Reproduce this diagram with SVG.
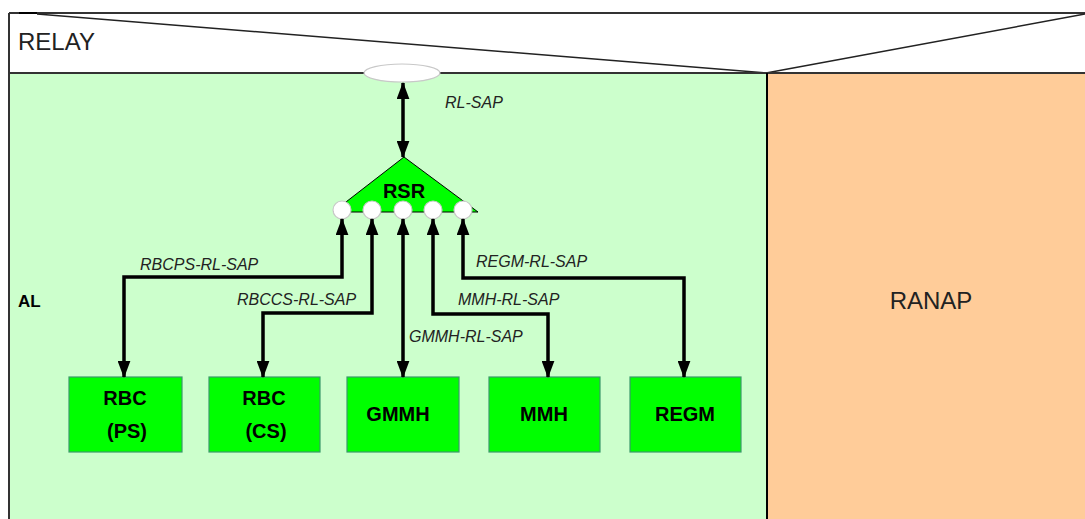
<svg xmlns="http://www.w3.org/2000/svg" width="1085" height="519" viewBox="0 0 1085 519">
<style>
.lbl{font-family:"Liberation Sans",Arial,sans-serif;font-style:italic;font-size:16px;fill:#222}
.big{font-family:"Liberation Sans",Arial,sans-serif;font-size:24px;fill:#222}
.bold{font-family:"Liberation Sans",Arial,sans-serif;font-weight:bold;font-size:20px;fill:#000;text-anchor:middle}
.box{fill:#00ff00;stroke:#3a9a6a;stroke-width:1.2}
.con{fill:none;stroke:#000;stroke-width:3.5}
.sap{fill:#fff;stroke:#c8c8c8;stroke-width:1.2}
</style>
<defs>
<marker id="ah" viewBox="0 0 16 12" refX="15" refY="6" markerWidth="17" markerHeight="13" markerUnits="userSpaceOnUse" orient="auto-start-reverse">
<path d="M0,0 L16,6 L0,12 z" fill="#000"/>
</marker>
</defs>
<rect x="0" y="0" width="1085" height="519" fill="#fff"/>
<g id="relay">
<line x1="9" y1="13" x2="1085" y2="13" stroke="#333" stroke-width="2"/>
<line x1="19" y1="13" x2="37" y2="13" stroke="#000" stroke-width="2"/>
<line x1="37" y1="14" x2="766" y2="73" stroke="#222" stroke-width="1.5"/>
<line x1="766" y1="73" x2="1085" y2="14" stroke="#222" stroke-width="1.5"/>
<text class="big" x="18" y="50">RELAY</text>
</g>
<g id="al">
<rect x="9" y="73" width="757" height="446" fill="#ccffcc"/>
<text x="18" y="307" font-family="Liberation Sans, Arial, sans-serif" font-weight="bold" font-size="17" fill="#000">AL</text>
</g>
<g id="ranap">
<rect x="766" y="73" width="319" height="446" fill="#ffcc99"/>
<text class="big" x="931" y="309" text-anchor="middle">RANAP</text>
</g>
<line x1="9" y1="73" x2="1085" y2="73" stroke="#333" stroke-width="2"/>
<line x1="9" y1="13" x2="9" y2="519" stroke="#333" stroke-width="2"/>
<line x1="767" y1="73" x2="767" y2="519" stroke="#000" stroke-width="2"/>
<g id="rl-sap">
<ellipse class="sap" cx="402" cy="73" rx="38" ry="9"/>
</g>
<g id="rsr">
<polygon points="404,157 333,212 478,212" fill="#00ff00" stroke="#000" stroke-width="1"/>
<text class="bold" x="404" y="198">RSR</text>
<circle class="sap" cx="342" cy="210" r="9"/>
<circle class="sap" cx="372" cy="210" r="9"/>
<circle class="sap" cx="403" cy="210" r="9"/>
<circle class="sap" cx="433" cy="210" r="9"/>
<circle class="sap" cx="463" cy="210" r="9"/>
</g>
<g id="rbc-ps">
<rect class="box" x="69" y="377" width="113" height="75"/>
<text class="bold" x="125" y="405">RBC</text>
<text class="bold" x="127" y="438">(PS)</text>
</g>
<g id="rbc-cs">
<rect class="box" x="209" y="377" width="111" height="75"/>
<text class="bold" x="264" y="405">RBC</text>
<text class="bold" x="266" y="438">(CS)</text>
</g>
<g id="gmmh">
<rect class="box" x="347" y="377" width="112" height="75"/>
<text class="bold" x="398" y="421">GMMH</text>
</g>
<g id="mmh">
<rect class="box" x="489" y="377" width="111" height="75"/>
<text class="bold" x="544" y="421">MMH</text>
</g>
<g id="regm">
<rect class="box" x="630" y="377" width="111" height="75"/>
<text class="bold" x="685" y="421">REGM</text>
</g>
<g id="connectors">
<path class="con" d="M403,83 L403,157" marker-start="url(#ah)" marker-end="url(#ah)"/>
<path class="con" d="M342,219 L342,277 L124,277 L124,377" marker-start="url(#ah)" marker-end="url(#ah)"/>
<path class="con" d="M372,219 L372,313 L263,313 L263,377" marker-start="url(#ah)" marker-end="url(#ah)"/>
<path class="con" d="M403,219 L403,377" marker-start="url(#ah)" marker-end="url(#ah)"/>
<path class="con" d="M433,219 L433,314 L548,314 L548,377" marker-start="url(#ah)" marker-end="url(#ah)"/>
<path class="con" d="M463,219 L463,278 L684,278 L684,377" marker-start="url(#ah)" marker-end="url(#ah)"/>
<text class="lbl" x="445" y="108">RL-SAP</text>
<text class="lbl" x="140" y="270">RBCPS-RL-SAP</text>
<text class="lbl" x="237" y="305">RBCCS-RL-SAP</text>
<text class="lbl" x="409" y="342">GMMH-RL-SAP</text>
<text class="lbl" x="458" y="305">MMH-RL-SAP</text>
<text class="lbl" x="476" y="267">REGM-RL-SAP</text>
</g>
</svg>
